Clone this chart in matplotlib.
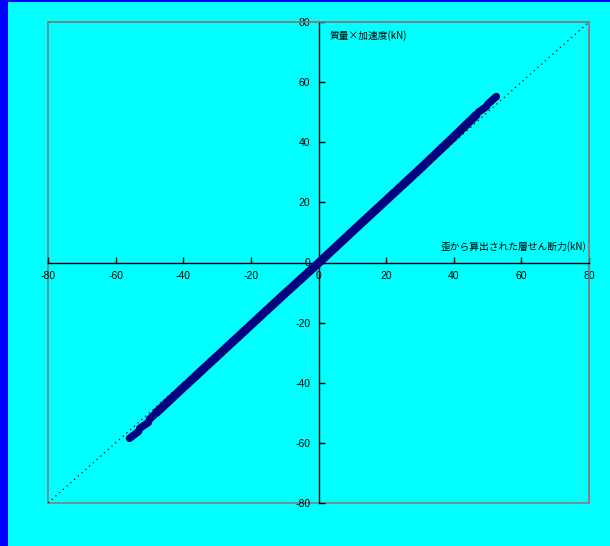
import matplotlib
matplotlib.use("Agg")
import matplotlib.pyplot as plt
from matplotlib.patches import Rectangle

plt.rcParams['font.family'] = ['Liberation Sans', 'Noto Sans CJK JP', 'DejaVu Sans']

# Data: measured band (main continuous part) as (x, y) points
band_x = [-48.0, -40.0, -30.0, -20.0, -10.0, 0.0, 10.0, 20.0, 30.0, 40.0, 46.6]
band_y = [-50.0, -41.6, -31.2, -20.8, -10.4, -0.2, 10.3, 20.7, 31.1, 41.8, 49.0]
# separate end pieces (start x, start y, end x, end y)
seg_x0 = [-55.9, -52.9, -50.0, 47.3, 50.0]
seg_y0 = [-58.5, -55.2, -52.2, 50.0, 52.6]
seg_x1 = [-53.2, -50.3, -48.5, 49.7, 52.6]
seg_y1 = [-56.2, -53.2, -50.6, 51.9, 55.2]
ref_x = [-80, 80]
ref_y = [-80, 80]
ticks = [-80, -60, -40, -20, 0, 20, 40, 60, 80]

cyan = '#00FFFF'
navy = '#000080'

fig = plt.figure(figsize=(6.10, 5.46), dpi=100)
fig.patch.set_facecolor(cyan)
fig.patches.append(Rectangle((0, 0), 8/610, 1, transform=fig.transFigure,
                             facecolor='#0000FF', edgecolor='none', zorder=0))
fig.patches.append(Rectangle((0, 1 - 1.5/546), 1, 1.5/546, transform=fig.transFigure,
                             facecolor='#0000FF', edgecolor='none', zorder=0))

ax = fig.add_axes([48/610, 43/546, 541/610, 481/546])
ax.set_facecolor(cyan)
ax.set_xlim(-80, 80)
ax.set_ylim(-80, 80)

ax.plot(ref_x, ref_y, color='black', linestyle=(0, (1, 3)), lw=0.9, zorder=2)
ax.plot(band_x, band_y, color=navy, lw=6.2, solid_capstyle='round',
        solid_joinstyle='round', zorder=3)
for a, b, c, d in zip(seg_x0, seg_y0, seg_x1, seg_y1):
    ax.plot([a, c], [b, d], color=navy, lw=5.4, solid_capstyle='round', zorder=3)

for s in ['left', 'bottom']:
    ax.spines[s].set_position('zero')
    ax.spines[s].set_color('black')
    ax.spines[s].set_linewidth(1.0)
for s in ['top', 'right']:
    ax.spines[s].set_color('#808080')
    ax.spines[s].set_linewidth(1.2)
ax.add_patch(Rectangle((0, 0), 1, 1, transform=ax.transAxes, fill=False,
                       edgecolor='#808080', lw=1.2, clip_on=False, zorder=1))

ax.set_xticks(ticks)
ax.set_yticks(ticks)
ax.set_xticklabels([str(t) for t in ticks])
ax.set_yticklabels([str(t) for t in ticks])
ax.tick_params(axis='x', direction='in', length=4, width=1, labelsize=7.5, pad=6)
ax.tick_params(axis='y', direction='in', length=4, width=1, labelsize=7.5, pad=6)

ax.text(330/610, 1 - 36/546, '質量×加速度(kN)', transform=fig.transFigure, fontsize=7,
        ha='left', va='center', family=['Noto Sans CJK JP', 'DejaVu Sans'])
ax.text(586/610, 1 - 247/546, '歪から算出された層せん断力(kN)', transform=fig.transFigure,
        fontsize=7, ha='right', va='center', family=['Noto Sans CJK JP', 'DejaVu Sans'])

fig.savefig('out.png', dpi=100, facecolor=fig.get_facecolor())
